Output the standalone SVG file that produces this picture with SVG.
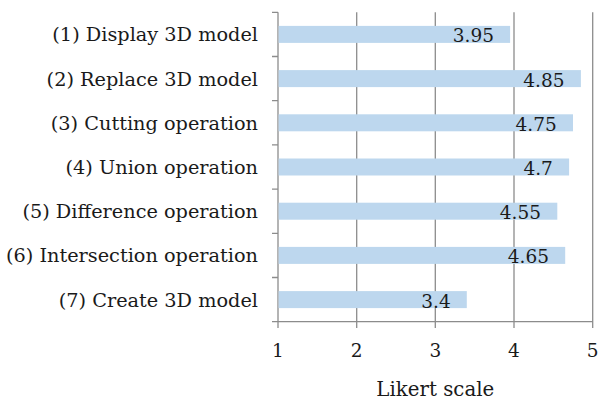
<svg xmlns="http://www.w3.org/2000/svg" width="598" height="401" viewBox="0 0 598 401">
<style>
.grid{stroke:#8c8c8c;stroke-width:1.3;fill:none}
.bar{fill:#bdd7ee}
.t{font-family:"DejaVu Serif","Liberation Serif",serif;font-size:18.5px;fill:#1a1a1a}
.cat{text-anchor:end;font-size:19.3px}
.val{text-anchor:end}
.tick{text-anchor:middle}
.title{text-anchor:middle;font-size:19.8px}
</style>
<rect width="598" height="401" fill="#ffffff"/>
<g id="grid" class="grid">
<line x1="356.7" y1="12.3" x2="356.7" y2="328"/>
<line x1="435.3" y1="12.3" x2="435.3" y2="328"/>
<line x1="514" y1="12.3" x2="514" y2="328"/>
<line x1="592.7" y1="12.3" x2="592.7" y2="328"/>
<line x1="278" y1="12.3" x2="278" y2="328"/>
<line x1="278" y1="321.7" x2="592.7" y2="321.7"/>
<path d="M272 12.3H278M272 56.5H278M272 100.7H278M272 144.9H278M272 189.1H278M272 233.3H278M272 277.5H278M272 321.7H278"/>
</g>
<g id="bar1"><rect class="bar" x="278.6" y="25.9" width="231.5" height="17"/><text class="t val" x="494" y="42.4">3.95</text><text class="t cat" x="258" y="41.4">(1) Display 3D model</text></g>
<g id="bar2"><rect class="bar" x="278.6" y="70.1" width="302.3" height="17"/><text class="t val" x="564.5" y="86.6">4.85</text><text class="t cat" x="258" y="85.6">(2) Replace 3D model</text></g>
<g id="bar3"><rect class="bar" x="278.6" y="114.3" width="294.4" height="17"/><text class="t val" x="556.8" y="130.8">4.75</text><text class="t cat" x="258" y="129.8">(3) Cutting operation</text></g>
<g id="bar4"><rect class="bar" x="278.6" y="158.5" width="290.5" height="17"/><text class="t val" x="552.8" y="175">4.7</text><text class="t cat" x="258" y="174">(4) Union operation</text></g>
<g id="bar5"><rect class="bar" x="278.6" y="202.7" width="278.7" height="17"/><text class="t val" x="541" y="219.2">4.55</text><text class="t cat" x="258" y="218.2">(5) Difference operation</text></g>
<g id="bar6"><rect class="bar" x="278.6" y="246.9" width="286.6" height="17"/><text class="t val" x="549" y="263.4">4.65</text><text class="t cat" x="258" y="262.4">(6) Intersection operation</text></g>
<g id="bar7"><rect class="bar" x="278.6" y="291.1" width="188.2" height="17"/><text class="t val" x="450.7" y="307.6">3.4</text><text class="t cat" x="258" y="306.6">(7) Create 3D model</text></g>
<g id="axis-labels">
<text class="t tick" x="278" y="357">1</text>
<text class="t tick" x="356.7" y="357">2</text>
<text class="t tick" x="435.3" y="357">3</text>
<text class="t tick" x="514" y="357">4</text>
<text class="t tick" x="592.7" y="357">5</text>
<text class="t title" x="435.3" y="396">Likert scale</text>
</g>
</svg>
